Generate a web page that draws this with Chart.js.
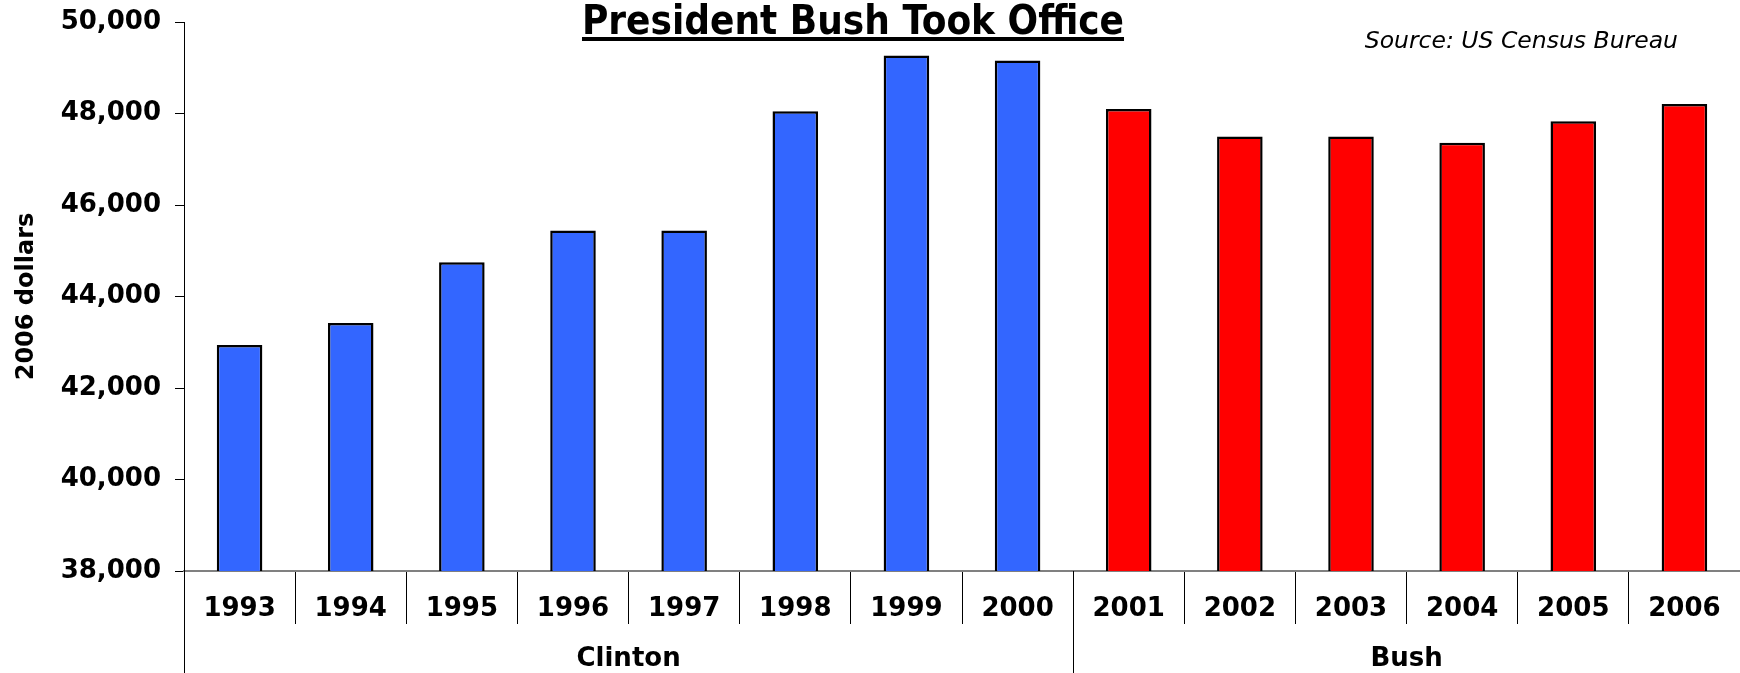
<!DOCTYPE html>
<html>
<head>
<meta charset="utf-8">
<title>President Bush Took Office</title>
<script src="https://cdn.jsdelivr.net/npm/chart.js@4/dist/chart.umd.min.js"></script>
<style>
  html, body { margin: 0; padding: 0; background: #fff; }
  #wrap { width: 1740px; height: 673px; position: relative; }
</style>
</head>
<body>
<div id="wrap"><canvas id="chart"></canvas></div>
<script>
// median household income, 2006 dollars
const years = ["1993", "1994", "1995", "1996", "1997", "1998", "1999",
               "2000", "2001", "2002", "2003", "2004", "2005", "2006"];
const income = [42940, 43420, 44750, 45440, 45440, 48050, 49270,
                49160, 48100, 47500, 47500, 47360, 47830, 48210];
const president = ["Clinton", "Clinton", "Clinton", "Clinton", "Clinton", "Clinton", "Clinton",
                   "Clinton", "Bush", "Bush", "Bush", "Bush", "Bush", "Bush"];
const groups = ["Clinton", "Bush"];
const yTicks = [38000, 40000, 42000, 44000, 46000, 48000, 50000];

const titleText = "President Bush Took Office";
const sourceText = "Source: US Census Bureau";
const yTitle = "2006 dollars";

const barColors = { Clinton: "#3366FF", Bush: "#FF0000" };
const boldFont = "'DejaVu Sans', Verdana, sans-serif";

// title, source note and the president groups under the year axis
const extras = {
    id: "extras",
    afterDraw(chart) {
        const ctx = chart.ctx;
        const x = chart.scales.x;
        const half = (x.getPixelForValue(1) - x.getPixelForValue(0)) / 2;

        ctx.save();

        // title + underline
        ctx.font = "bold 40px 'DejaVu Sans Condensed', 'DejaVu Sans', sans-serif";
        ctx.fillStyle = "#000";
        ctx.textAlign = "center";
        ctx.textBaseline = "alphabetic";
        ctx.fillText(titleText, 853, 34);
        const tw = ctx.measureText(titleText).width;
        ctx.fillRect(853 - tw / 2, 37, tw, 4);

        // source
        ctx.font = "italic 23.5px 'DejaVu Sans', sans-serif";
        ctx.textAlign = "right";
        ctx.fillText(sourceText, 1678, 48);

        // group labels and long separators
        ctx.font = "bold 26px " + boldFont;
        ctx.textAlign = "center";
        ctx.textBaseline = "middle";
        ctx.strokeStyle = "#000";
        ctx.lineWidth = 1;
        groups.forEach(g => {
            const first = president.indexOf(g);
            const last = president.lastIndexOf(g);
            const left = x.getPixelForValue(first) - half;
            const right = x.getPixelForValue(last) + half;
            ctx.fillText(g, (left + right) / 2, 659);
            [left, right].forEach(px => {
                const p = Math.round(px) + 0.5;
                ctx.beginPath();
                ctx.moveTo(p, x.top);
                ctx.lineTo(p, chart.height);
                ctx.stroke();
            });
        });

        ctx.restore();
    }
};

const ctx = document.getElementById("chart").getContext("2d");

const myChart = new Chart(ctx,
{
    type: "bar",
    data:
    {
        labels: years,
        datasets:
        [{
            label: "Median household income",
            data: income,
            backgroundColor: president.map(p => barColors[p]),
            borderColor: "#000",
            borderWidth: 2.5,
            barPercentage: 0.41,
            categoryPercentage: 1
        }]
    },
    options:
    {
        responsive: true,
        maintainAspectRatio: false,
        animation: false,
        layout: { padding: { top: 22, right: 0, bottom: 0, left: 0 } },
        plugins:
        {
            legend: { display: false },
            tooltip: { enabled: false },
            title: { display: false }
        },
        scales:
        {
            x:
            {
                grid:
                {
                    offset: true,
                    drawOnChartArea: false,
                    drawTicks: true,
                    tickLength: 53,
                    color: "#000",
                    lineWidth: 1
                },
                border: { display: true, color: "#808080", width: 2 },
                ticks:
                {
                    autoSkip: false,
                    maxRotation: 0,
                    padding: -30,
                    color: "#000",
                    font: { family: boldFont, size: 26, weight: "bold" }
                },
                afterFit: s => { s.height = 102; }
            },
            y:
            {
                min: yTicks[0],
                max: yTicks[yTicks.length - 1],
                afterBuildTicks: s => { s.ticks = yTicks.map(v => ({ value: v })); },
                grid:
                {
                    drawOnChartArea: false,
                    drawTicks: true,
                    tickLength: 9,
                    color: "#000",
                    lineWidth: 1
                },
                border: { display: true, color: "#000", width: 1 },
                ticks:
                {
                    padding: 14,
                    color: "#000",
                    font: { family: boldFont, size: 26, weight: "bold" },
                    callback: v => v.toLocaleString("en-US")
                },
                title:
                {
                    display: true,
                    text: yTitle,
                    color: "#000",
                    font: { family: boldFont, size: 24, weight: "bold" },
                    padding: { top: 12, bottom: 0 }
                },
                afterFit: s => {
                    s.width = 184;
                    s.paddingTop = 0;
                    s.paddingBottom = 0;
                }
            }
        }
    },
    plugins: [extras]
});
</script>
</body>
</html>
